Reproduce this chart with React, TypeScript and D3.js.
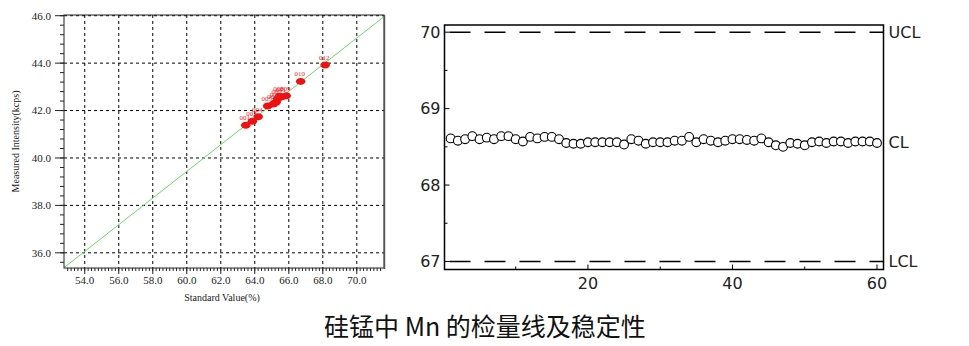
import React from "react";
import * as d3 from "d3";

// Calibration (working curve) samples: id, standard value (%), measured intensity (kcps)
const sampleIds = ["001", "003", "004", "005", "006", "002", "007", "008", "011", "009", "010", "012"];
const standardValues = [63.47, 63.86, 64.2, 64.76, 65.1, 65.25, 65.35, 65.45, 65.6, 65.85, 66.7, 68.14];
const measuredValues = [41.38, 41.55, 41.74, 42.19, 42.28, 42.35, 42.5, 42.6, 42.58, 42.62, 43.23, 43.92];

// Regression line endpoints (x, y)
const fitX = [52.78, 71.6];
const fitY = [35.375, 45.96];

const calXTicks = [54, 56, 58, 60, 62, 64, 66, 68, 70];
const calYTicks = [36, 38, 40, 42, 44, 46];

// Stability (control chart) measurements, runs 1..60
const stability = [
  68.61, 68.58, 68.6, 68.64, 68.6, 68.62, 68.6, 68.64, 68.64, 68.6,
  68.57, 68.63, 68.61, 68.63, 68.63, 68.6, 68.55, 68.54, 68.54, 68.56,
  68.56, 68.56, 68.56, 68.56, 68.53, 68.6, 68.58, 68.54, 68.56, 68.56,
  68.56, 68.58, 68.58, 68.63, 68.56, 68.6, 68.58, 68.56, 68.58, 68.6,
  68.6, 68.59, 68.58, 68.61, 68.56, 68.52, 68.5, 68.55, 68.54, 68.52,
  68.56, 68.57, 68.55, 68.57, 68.57, 68.55, 68.57, 68.57, 68.57, 68.55,
];
const ucl = 70;
const cl = 68.56;
const lcl = 67;
const ctrlYTicks = [67, 68, 69, 70];
const ctrlXTicks = [20, 40, 60];
const ctrlXMinor = [10, 30, 50];
const ctrlYMinor = [67.5, 68.5, 69.5];

const title = "硅锰中 Mn 的检量线及稳定性";

const serif = "'Liberation Serif', 'DejaVu Serif', serif";
const sans = "'DejaVu Sans', Verdana, sans-serif";

function CalibrationChart() {
  const L = 64, R = 384, T = 15, B = 268;
  const x = d3.scaleLinear().domain([52.78, 71.6]).range([L, R]);
  const y = d3.scaleLinear().domain([35.36, 46.03]).range([B, T]);
  const xMinor = d3.range(53, 71.6, 0.2);
  const yMinor = d3.range(35.6, 46.01, 0.4);
  const line = d3.line<number>().x((d, i) => x(fitX[i])).y((d, i) => y(fitY[i]));
  return (
    <g>
      <defs>
        <clipPath id="calClip">
          <rect x={L} y={T} width={R - L} height={B - T} />
        </clipPath>
      </defs>
      {/* grid */}
      {calXTicks.map((t) => (
        <line key={"gx" + t} x1={x(t)} x2={x(t)} y1={T} y2={B} stroke="#000" strokeWidth={1} strokeDasharray="3,3" />
      ))}
      {calYTicks.map((t) => (
        <line key={"gy" + t} x1={L} x2={R} y1={y(t)} y2={y(t)} stroke="#000" strokeWidth={1} strokeDasharray="3,3" />
      ))}
      {/* fitted line */}
      <path d={line(fitX) || ""} fill="none" stroke="#66dd66" strokeWidth={1} clipPath="url(#calClip)" />
      {/* samples */}
      {standardValues.map((s, i) => (
        <ellipse key={"p" + i} cx={x(s)} cy={y(measuredValues[i])} rx={4.8} ry={3.5} fill="#ee1111" />
      ))}
      {standardValues.map((s, i) => (
        <text key={"l" + i} x={x(s) - 1} y={y(measuredValues[i]) - 5} fill="#ee2222" fontSize={7} fontFamily={serif} textAnchor="middle">
          {sampleIds[i]}
        </text>
      ))}
      {/* frame */}
      <rect x={L} y={T} width={R - L} height={B - T} fill="none" stroke="#222" strokeWidth={1} />
      <line x1={R + 0.5} x2={R + 0.5} y1={T} y2={B + 1} stroke="#555" strokeWidth={1.5} />
      {/* axis ticks */}
      {yMinor.map((t, i) => (
        <line key={"ym" + i} x1={L - 4} x2={L} y1={y(t)} y2={y(t)} stroke="#222" />
      ))}
      {calYTicks.map((t) => (
        <line key={"yM" + t} x1={L - 9} x2={L} y1={y(t)} y2={y(t)} stroke="#222" />
      ))}
      {xMinor.map((t, i) => (
        <line key={"xm" + i} x1={x(t)} x2={x(t)} y1={B} y2={B + 3} stroke="#222" />
      ))}
      {calXTicks.map((t) => (
        <line key={"xM" + t} x1={x(t)} x2={x(t)} y1={B} y2={B + 6} stroke="#222" />
      ))}
      {calYTicks.map((t) => (
        <text key={"yl" + t} x={L - 13} y={y(t)} dy="0.35em" textAnchor="end" fontSize={11} fontFamily={serif} fill="#222">
          {d3.format(".1f")(t)}
        </text>
      ))}
      {calXTicks.map((t) => (
        <text key={"xl" + t} x={x(t)} y={B + 12} dy="0.35em" textAnchor="middle" fontSize={11} fontFamily={serif} fill="#222">
          {d3.format(".1f")(t)}
        </text>
      ))}
      <text x={222} y={297} dy="0.35em" textAnchor="middle" fontSize={10} fontFamily={serif} fill="#222">
        Standard Value(%)
      </text>
      <text transform={`translate(15,${(T + B) / 2}) rotate(-90)`} dy="0.35em" textAnchor="middle" fontSize={10} fontFamily={serif} fill="#222">
        Measured Intensity(kcps)
      </text>
    </g>
  );
}

function ControlChart() {
  const L = 444.5, R = 883.5, T = 25, B = 269.5;
  const x = d3.scaleLinear().domain([0.15, 60.9]).range([L, R]);
  const y = d3.scaleLinear().domain([66.895, 70.094]).range([B, T]);
  return (
    <g>
      {/* control limits */}
      <line x1={L} x2={R} y1={y(ucl)} y2={y(ucl)} stroke="#000" strokeWidth={1.6} strokeDasharray="21,14" strokeDashoffset={-5} />
      <line x1={L} x2={R} y1={y(lcl)} y2={y(lcl)} stroke="#000" strokeWidth={1.6} strokeDasharray="21,14" strokeDashoffset={-5} />
      {/* points */}
      {stability.map((v, i) => (
        <circle key={"c" + i} cx={x(i + 1)} cy={y(v)} r={4.4} fill="#fff" stroke="#000" strokeWidth={1.1} />
      ))}
      <rect x={L} y={T} width={R - L} height={B - T} fill="none" stroke="#000" strokeWidth={1.5} />
      {ctrlYTicks.map((t) => (
        <line key={"yt" + t} x1={L} x2={L + 5} y1={y(t)} y2={y(t)} stroke="#000" />
      ))}
      {ctrlYMinor.map((t) => (
        <line key={"ytm" + t} x1={L} x2={L + 3} y1={y(t)} y2={y(t)} stroke="#000" />
      ))}
      {ctrlXTicks.map((t) => (
        <line key={"xt" + t} x1={x(t)} x2={x(t)} y1={B} y2={B - 5} stroke="#000" />
      ))}
      {ctrlXMinor.map((t) => (
        <line key={"xtm" + t} x1={x(t)} x2={x(t)} y1={B} y2={B - 3} stroke="#000" />
      ))}
      {ctrlYTicks.map((t) => (
        <text key={"yl" + t} x={L - 4} y={y(t)} dy="0.36em" textAnchor="end" fontSize={16} fontFamily={sans} fill="#222">
          {t}
        </text>
      ))}
      {ctrlXTicks.map((t) => (
        <text key={"xl" + t} x={x(t)} y={B + 14} dy="0.36em" textAnchor="middle" fontSize={16} fontFamily={sans} fill="#222">
          {t}
        </text>
      ))}
      {[
        ["UCL", ucl],
        ["CL", cl],
        ["LCL", lcl],
      ].map(([label, v]) => (
        <text key={label as string} x={R + 5} y={y(v as number)} dy="0.36em" fontSize={16} fontFamily={sans} fill="#222">
          {label}
        </text>
      ))}
    </g>
  );
}

export default function App() {
  return (
    <svg width={969} height={346} style={{ position: "absolute", left: 0, top: 0, background: "#fff" }}>
      <rect width={969} height={346} fill="#fff" />
      <CalibrationChart />
      <ControlChart />
      <text x={485} y={327} dy="0.35em" textAnchor="middle" fontSize={25} fontFamily="'Noto Sans CJK SC', sans-serif" fill="#111">
        {title}
      </text>
    </svg>
  );
}
